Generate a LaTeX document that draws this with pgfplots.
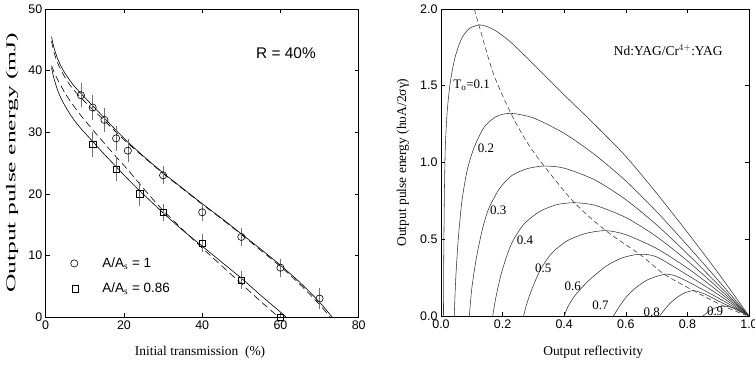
\documentclass[border=0pt]{standalone}
\usepackage{pgfplots}
\pgfplotsset{compat=1.18}
\usepackage{fontspec}
\setmainfont{Liberation Serif}
\newfontfamily\arial{Liberation Sans}

\pgfplotsset{
  panel/.style={
    scale only axis,
    anchor=south west,
    axis line style={line width=0.8pt},
    tick style={line width=0.6pt,black},
    major tick length=4bp,
    tick align=inside,
    /pgf/number format/assume math mode=true,
    tick label style={font=\arial\fontsize{12.5}{13}\selectfont},
    label style={font=\fontsize{13.5}{15}\selectfont},
  },
  curve/.style={black!80,line width=0.55pt,smooth,tension=0.45},
}

\begin{document}
\begin{tikzpicture}

% ---------------- left panel: energy versus initial transmission
\begin{axis}[panel,
  at={(45.7bp,48bp)}, width=313bp, height=308bp,
  xmin=0, xmax=80, ymin=0, ymax=50,
  xtick={0,20,...,80}, ytick={0,10,...,50},
  xlabel={Initial transmission\ \ (\%)},
  ylabel={\scalebox{1.9}[1]{Output pulse energy (mJ)}},
  xlabel style={at={(axis description cs:0.493,-0.113)},anchor=center},
  ylabel style={at={(axis description cs:-0.107,0.5)},anchor=center},
]
% A/As = 1
\addplot[black,line width=0.6pt,smooth,tension=0.5] coordinates {
  (1.5,45.5) (2,44.0) (3,42.0) (4,40.6) (5,39.5) (7,37.7) (9,36.3) (12,34.3)
  (15,32.3) (18,30.3) (21,28.4) (25,26.1) (30,23.4) (35,20.9) (40,18.4)
  (45,16.0) (50,13.5) (55,11.0) (60,8.4) (65,5.6) (70,2.4) (73.2,0)};
\addplot[black,line width=0.6pt,dash pattern=on 7bp off 4bp,smooth,tension=0.5] coordinates {
  (1.5,44.8) (2,43.3) (3,41.3) (5,38.8) (7,37.0) (9,35.6) (12,33.7) (15,31.9)
  (18,30.0) (21,28.2) (25,26.0) (30,23.3) (35,20.8) (40,18.3) (45,15.9)
  (50,13.4) (55,10.8) (60,8.2) (65,5.3) (70,2.0) (72.7,0)};
% A/As = 0.86
\addplot[black,line width=0.6pt,smooth,tension=0.5] coordinates {
  (1.5,40.5) (2,39.0) (3,36.9) (4,35.4) (5,34.2) (7,32.2) (9,30.6) (12,28.5)
  (15,26.4) (18,24.4) (21,22.4) (24,20.5) (27,18.7) (30,16.9) (35,14.1)
  (40,11.5) (45,8.9) (50,6.3) (55,3.5) (60,0.8) (61.4,0)};
\addplot[black,line width=0.6pt,dash pattern=on 7bp off 4bp,smooth,tension=0.5] coordinates {
  (1.5,40.8) (2,40.0) (3,38.6) (5,36.3) (7,34.4) (9,32.7) (12,30.4) (15,28.2)
  (18,26.0) (21,23.9) (24,21.6) (27,19.4) (30,17.3) (35,14.2) (40,11.2)
  (45,8.3) (50,5.4) (55,2.5) (59.5,0)};

% measured points with error bars
\addplot[only marks, mark=o, mark size=3.6bp, black, line width=0.6pt,
  error bars/.cd, y dir=both, y explicit,
  error bar style={black!55,line width=0.5pt},
  error mark options={black!55,mark size=3bp,line width=0.5pt}]
  table[x=x,y=y,y error=e] {
  x  y  e
  9  36 1.5
  12 34 1.5
  15 32 1.5
  18 29 1.5
  21 27 1.4
  30 23 1.0
  40 17 1.0
  50 13 1.0
  60 8  1.0
  70 3  1.2
};
\addplot[only marks, mark=square, mark size=3.2bp, black, line width=0.6pt,
  error bars/.cd, y dir=both, y explicit,
  error bar style={black!55,line width=0.5pt},
  error mark options={black!55,mark size=3bp,line width=0.5pt}]
  table[x=x,y=y,y error=e] {
  x  y  e
  12 28 1.6
  18 24 1.5
  24 20 1.5
  30 17 0.9
  40 12 1.0
  50 6  1.0
  60 0  0
};

\node[font=\arial\fontsize{15.5}{16}\selectfont] at (axis cs:61.4,42.9) {R = 40\%};
% legend
\addplot[only marks, mark=o, mark size=3.6bp, black, line width=0.6pt] coordinates {(7.3,8.7)};
\addplot[only marks, mark=square, mark size=3.2bp, black, line width=0.6pt] coordinates {(7.5,4.6)};
\node[anchor=west,font=\arial\fontsize{13.5}{14}\selectfont] at (axis cs:13.6,8.7) {A/A$_\mathrm{s}$ = 1};
\node[anchor=west,font=\arial\fontsize{13.5}{14}\selectfont] at (axis cs:13.6,4.6) {A/A$_\mathrm{s}$ = 0.86};
\end{axis}

% ---------------- right panel: energy versus output reflectivity
\begin{axis}[panel,
  at={(441bp,49bp)}, width=308bp, height=307bp,
  xmin=0, xmax=1, ymin=0, ymax=2,
  xtick={0,0.2,...,1.0}, ytick={0,0.5,...,2.0},
  xticklabel style={/pgf/number format/.cd,fixed,fixed zerofill,precision=1},
  yticklabel style={/pgf/number format/.cd,fixed,fixed zerofill,precision=1},
  xlabel={Output reflectivity},
  ylabel={Output pulse energy (hυA/2σγ)},
  xlabel style={at={(axis description cs:0.494,-0.117)},anchor=center},
  ylabel style={at={(axis description cs:-0.124,0.5)},anchor=center},
]
% T0 = 0.1
\addplot[curve] coordinates {
  (0.008,0) (0.009,0.4) (0.011,0.8) (0.014,1.1) (0.02,1.33) (0.03,1.52)
  (0.045,1.68) (0.065,1.80) (0.09,1.87) (0.123,1.896) (0.15,1.885)
  (0.18,1.855) (0.22,1.795) (0.27,1.70) (0.32,1.60) (0.4,1.44) (0.5,1.245)
  (0.6,1.04) (0.7,0.80) (0.8,0.545) (0.9,0.28) (1,0)};
% T0 = 0.2
\addplot[curve] coordinates {
  (0.043,0) (0.048,0.25) (0.056,0.5) (0.068,0.75) (0.085,0.95) (0.108,1.1)
  (0.14,1.23) (0.18,1.30) (0.227,1.32) (0.3,1.29) (0.4,1.19) (0.5,1.05)
  (0.6,0.88) (0.7,0.68) (0.8,0.46) (0.9,0.232) (1,0)};
% T0 = 0.3
\addplot[curve] coordinates {
  (0.092,0) (0.1,0.18) (0.115,0.38) (0.135,0.57) (0.155,0.70) (0.19,0.83)
  (0.23,0.915) (0.28,0.96) (0.335,0.977) (0.4,0.963) (0.5,0.886) (0.6,0.758)
  (0.7,0.594) (0.8,0.405) (0.9,0.204) (1,0)};
% T0 = 0.4
\addplot[curve] coordinates {
  (0.168,0) (0.178,0.12) (0.195,0.27) (0.215,0.40) (0.235,0.495) (0.27,0.60)
  (0.32,0.68) (0.375,0.725) (0.433,0.738) (0.5,0.721) (0.6,0.642) (0.7,0.517)
  (0.8,0.359) (0.9,0.182) (1,0)};
% T0 = 0.5
\addplot[curve] coordinates {
  (0.268,0) (0.28,0.09) (0.30,0.2) (0.325,0.31) (0.36,0.41) (0.41,0.49)
  (0.47,0.538) (0.535,0.556) (0.6,0.53) (0.7,0.44) (0.8,0.312) (0.9,0.161) (1,0)};
% T0 = 0.6
\addplot[curve] coordinates {
  (0.40,0) (0.412,0.06) (0.43,0.12) (0.455,0.18) (0.49,0.25) (0.54,0.33)
  (0.59,0.38) (0.645,0.402) (0.7,0.385) (0.8,0.267) (0.9,0.14) (1,0)};
% T0 = 0.7
\addplot[curve] coordinates {
  (0.56,0) (0.575,0.05) (0.6,0.12) (0.63,0.18) (0.67,0.235) (0.725,0.272)
  (0.76,0.262) (0.8,0.225) (0.85,0.172) (0.9,0.118) (0.95,0.06) (1,0)};
% T0 = 0.8
\addplot[curve] coordinates {
  (0.71,0) (0.725,0.04) (0.75,0.095) (0.785,0.145) (0.82,0.165) (0.86,0.140)
  (0.9,0.098) (0.95,0.05) (1,0)};
% T0 = 0.9
\addplot[curve] coordinates {
  (0.85,0) (0.87,0.03) (0.893,0.055) (0.917,0.065) (0.94,0.058) (0.96,0.043)
  (0.98,0.022) (1,0)};
% optimum locus
\addplot[black!80,line width=0.55pt,dash pattern=on 5bp off 3bp,smooth,tension=0.5] coordinates {
  (0.108,2.0) (0.123,1.896) (0.17,1.58) (0.227,1.32) (0.28,1.13) (0.335,0.977)
  (0.433,0.738) (0.535,0.556) (0.645,0.402) (0.725,0.272) (0.82,0.165)
  (0.917,0.065) (0.99,0.005)};

\begin{scope}[every node/.style={font=\fontsize{13}{14}\selectfont,inner sep=0.5pt}]
\node at (axis cs:0.0997,1.505) {T$_\mathrm{o}$=0.1};
\node at (axis cs:0.146,1.092) {0.2};
\node at (axis cs:0.186,0.69) {0.3};
\node at (axis cs:0.273,0.495) {0.4};
\node at (axis cs:0.332,0.31) {0.5};
\node at (axis cs:0.4275,0.191) {0.6};
\node at (axis cs:0.518,0.072) {0.7};
\node at (axis cs:0.684,0.024) {0.8};
\node at (axis cs:0.89,0.028) {0.9};
\end{scope}
\node[font=\fontsize{13.5}{14}\selectfont] at (axis cs:0.738,1.733) {Nd:YAG/Cr$^{4+}$:YAG};
\end{axis}

\pgfresetboundingbox
\path[use as bounding box] (0,0) rectangle (755bp,365bp);
\end{tikzpicture}
\end{document}
